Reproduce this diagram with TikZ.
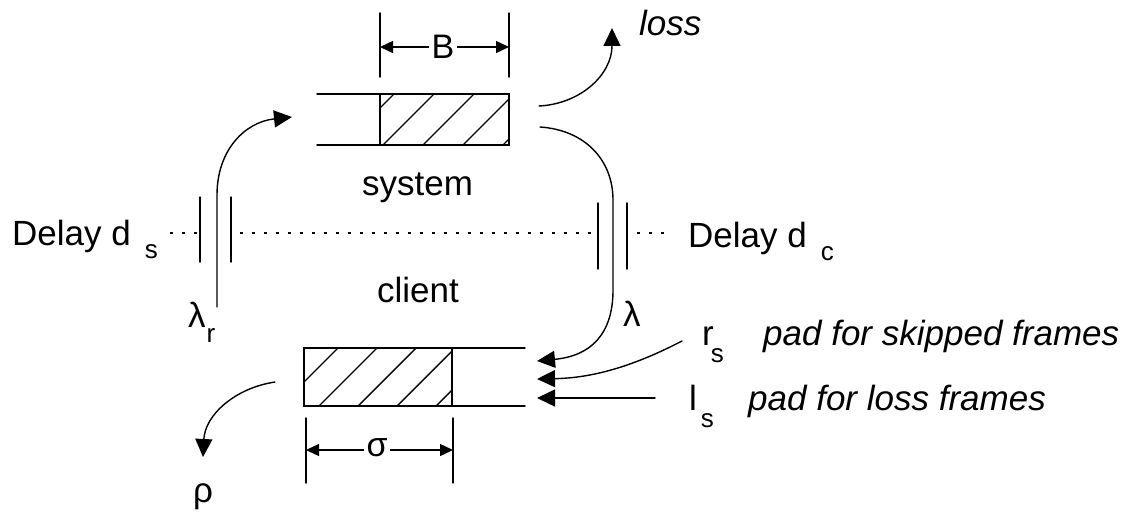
\documentclass[tikz,border=0pt]{standalone}
\usepackage{fontspec}
\setmainfont{Liberation Sans}
\usetikzlibrary{arrows.meta}
\newcommand\subtxt[3]{\hspace{#1pt}\raisebox{-#2pt}{\fontsize{26}{28}\selectfont #3}}
\tikzset{
  ln/.style={line width=1.4pt, line cap=round},
  bigtip/.style={-{Triangle[length=18pt,width=17pt]}},
  dimtips/.style={{Triangle[length=13pt,width=12pt]}-{Triangle[length=13pt,width=12pt]}},
  dots/.style={line width=2pt, dash pattern=on 3pt off 9pt},
  lbl/.style={inner sep=0pt, anchor=base west, font=\fontsize{35}{40}\selectfont},
  dimlbl/.style={inner sep=3pt, fill=white, font=\fontsize{34}{38}\selectfont},
}
\begin{document}
\begin{tikzpicture}[x=1pt,y=-1pt]
\useasboundingbox (0,0) rectangle (1129,519);

% ---------- system buffer ----------
\begin{scope}
  \clip (380,94) rectangle (509,145);
  \foreach \x in {343,383,423,463,503} \draw[ln] (\x,145) -- ++(51,-51);
\end{scope}
\draw[ln] (317,94) -- (509,94) -- (509,145) -- (317,145);
\draw[ln] (380,94) -- (380,145);
\coordinate (sysin) at (292,117);
\coordinate (sysout1) at (539,106);
\coordinate (sysout2) at (540,127);

% B dimension
\draw[ln] (380,13) -- (380,77);
\draw[ln] (509,13) -- (509,77);
\coordinate (bL) at (380,47);
\coordinate (bR) at (509,47);
\draw[ln, dimtips] (bL) -- (bR);
\node[dimlbl] (B) at (443,47) {B};

% ---------- client buffer ----------
\begin{scope}
  \clip (304,348) rectangle (452,406);
  \foreach \x in {280,319,358,397,436} \draw[ln] (\x,406) -- ++(58,-58);
\end{scope}
\draw[ln] (525,348) -- (304,348) -- (304,406) -- (525,406);
\draw[ln] (452,348) -- (452,406);
\coordinate (cin1) at (537,361);
\coordinate (cin2) at (537,379);
\coordinate (cin3) at (537,398);
\coordinate (cout) at (275,382);

% sigma dimension
\draw[ln] (306,418) -- (306,483);
\draw[ln] (453,418) -- (453,483);
\coordinate (sL) at (306,450);
\coordinate (sR) at (453,450);
\draw[ln, dimtips] (sL) -- (sR);
\node[dimlbl] (sigma) at (377,448) {σ};

% ---------- delay line ----------
\draw[dots] (170,233) -- (200,233);
\draw[dots] (240,233) -- (598,233);
\draw[dots] (637,233) -- (668,233);
\foreach \x in {200,231} \draw[ln] (\x,197) -- (\x,262);
\foreach \x in {598,627} \draw[ln] (\x,203) -- (\x,269);

% ---------- connectors ----------
\coordinate (lrbot) at (217,307);
\coordinate (lamtop) at (613,200);
\draw[ln, bigtip] (lrbot) -- (217,195) .. controls (217,150) and (245,122) .. (sysin);
\draw[ln, bigtip] (sysout1) .. controls (580,104) and (612,75) .. (612,28);
\draw[ln, bigtip] (sysout2) .. controls (585,130) and (613,160) .. (lamtop) -- (613,290)
      .. controls (613,335) and (590,356) .. (cin1);
\coordinate (rsstart) at (682,341);
\coordinate (lsstart) at (655,398);
\draw[ln, bigtip] (rsstart) .. controls (630,368) and (590,378) .. (cin2);
\draw[ln, bigtip] (lsstart) -- (cin3);
\draw[ln, bigtip] (cout) .. controls (235,388) and (205,415) .. (203,457);

% ---------- labels ----------
\node[lbl] (dls) at (12,245) {Delay d\subtxt{14}{13}{s}};
\node[lbl] (dlc) at (688,247) {Delay d\subtxt{14}{13}{c}};
\node[lbl] (sys) at (362,195) {system};
\node[lbl] (cli) at (377,302) {client};
\node[lbl, font=\fontsize{35}{40}\selectfont\itshape] (loss) at (639,36) {loss};
\node[lbl] (lamr) at (188,327) {λ\subtxt{1}{15}{r}};
\node[lbl] (lam) at (623,326) {λ};
\node[lbl] (rs) at (702,345) {r\subtxt{-3}{17}{s}};
\node[lbl] (ls) at (689,410) {l\subtxt{4}{17}{s}};
\node[lbl, font=\fontsize{35}{40}\selectfont\itshape] (padskip) at (763,345) {pad for skipped frames};
\node[lbl, font=\fontsize{35}{40}\selectfont\itshape] (padloss) at (748,410) {pad for loss frames};
\node[inner sep=0pt, font=\fontsize{35}{40}\selectfont] (rho) at (203,497) {ρ};
\end{tikzpicture}
\end{document}
